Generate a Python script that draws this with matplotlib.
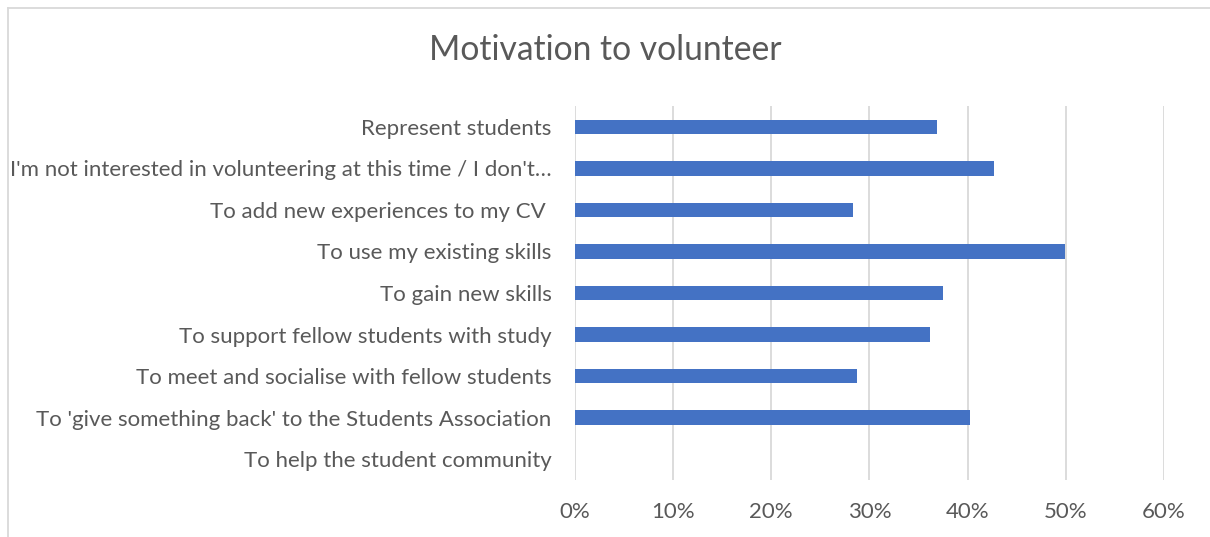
import matplotlib
matplotlib.use("Agg")
import matplotlib.pyplot as plt
from matplotlib.lines import Line2D
from matplotlib.ticker import FuncFormatter

# Survey responses, listed top to bottom as they appear on the chart
categories = [
    "Represent students",
    "I'm not interested in volunteering at this time / I don't\u2026",
    "To add new experiences to my CV ",
    "To use my existing skills",
    "To gain new skills",
    "To support fellow students with study",
    "To meet and socialise with fellow students",
    "To 'give something back' to the Students Association",
    "To help the student community",
]
shares = [0.369, 0.427, 0.283, 0.499, 0.375, 0.362, 0.287, 0.403, 0.0]
x_ticks = [0.0, 0.1, 0.2, 0.3, 0.4, 0.5, 0.6]
title = "Motivation to volunteer"

BAR = "#4472C4"
TEXT = "#595959"
GRID = "#D9D9D9"

plt.rcParams["font.family"] = ["Lato", "DejaVu Sans"]

W, H = 1210, 537
fig = plt.figure(figsize=(W / 100, H / 100), dpi=100)
fig.patch.set_facecolor("white")

# chart frame (left and top edges visible)
fx = lambda px: px / W
fy = lambda py: 1 - py / H
fig.add_artist(Line2D([fx(8), fx(8)], [fy(8), 0], color=GRID, lw=1.3))
fig.add_artist(Line2D([fx(8), 1], [fy(8), fy(8)], color=GRID, lw=1.3))

left, right, top, bottom = 575, 1163.75, 106, 480
ax = fig.add_axes([fx(left), fy(bottom), fx(right) - fx(left), fy(top) - fy(bottom)])

n = len(categories)
ypos = list(range(n))
ax.barh(ypos, shares, height=0.35, color=BAR, zorder=3)
ax.set_ylim(n - 0.5, -0.5)
ax.set_xlim(x_ticks[0], x_ticks[-1])

ax.set_yticks(ypos)
ax.set_yticklabels(categories)
ax.set_xticks(x_ticks)
ax.xaxis.set_major_formatter(FuncFormatter(lambda v, p: f"{v * 100:.0f}%"))

for s in ax.spines.values():
    s.set_visible(False)
ax.grid(axis="x", color=GRID, lw=1.3, zorder=0)
ax.tick_params(axis="both", length=0, labelsize=16, colors=TEXT)
ax.tick_params(axis="y", pad=17)
ax.tick_params(axis="x", pad=16)

fig.text(fx(605), fy(50), title, ha="center", va="center", fontsize=24.2, color=TEXT)

fig.savefig("out.png", dpi=100, facecolor="white")
